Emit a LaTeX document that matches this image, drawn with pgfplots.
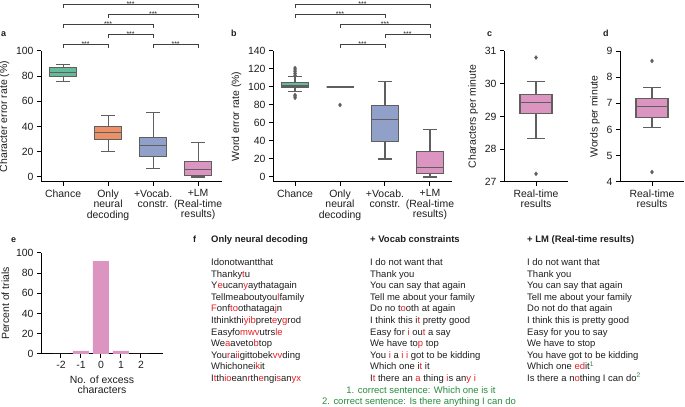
\documentclass[border=0pt]{standalone}
\usepackage{pgfplots}
\pgfplotsset{compat=1.18}
\usepgfplotslibrary{statistics}
\usepackage{fontspec}
\setmainfont{Liberation Sans}
\setsansfont{Liberation Sans}

\definecolor{cA}{RGB}{102,186,156}
\definecolor{cB}{RGB}{235,145,105}
\definecolor{cC}{RGB}{145,160,200}
\definecolor{cD}{RGB}{220,148,192}
\definecolor{edge}{RGB}{95,95,95}
\definecolor{txt}{RGB}{30,30,30}
\definecolor{redc}{RGB}{235,30,35}
\definecolor{grnc}{RGB}{40,140,60}

\newcommand\R[1]{\textcolor{redc}{#1}}
\newcommand\G[1]{\textcolor{grnc}{#1}}

\pgfplotsset{
  sb/.style={scale only axis, anchor=south west, clip=false,
    axis x line*=bottom, axis y line*=left,
    axis line style={line width=1bp, black},
    tick align=outside, major tick length=4bp,
    tick style={line width=1bp, black},
    ticklabel style={font=\fontsize{10.5}{10.5}\selectfont, text=txt},
    xticklabel style={align=center},
    label style={font=\fontsize{10.5}{10.5}\selectfont, text=txt},
    /pgf/number format/assume math mode=true},
  bx/.style={draw=edge, line width=1.1pt, mark=diamond*, mark size=2bp,
    boxplot/draw direction=y,
    mark options={fill=edge, draw=edge, solid, line width=0.4pt}},
}
\tikzset{
  brk/.style={draw=black!75, line width=0.8pt},
  stars/.style={font=\fontsize{7}{7}\selectfont, anchor=base, inner sep=0pt, yshift=-1.5bp, text=txt}
}

\begin{document}
\begin{tikzpicture}
\useasboundingbox (0,0) rectangle (685bp,407bp);

% ---- a
\begin{axis}[sb, at={(41bp,225bp)}, width=181bp, height=131bp,
  xmin=-0.49, xmax=3.53, ymin=-4, ymax=100,
  xtick={0,1,2,3},
  xticklabels={Chance, Only\\neural\\decoding, +Vocab.\\constr., +LM\\(Real-time\\results)},
  ytick={0,20,...,100}, ylabel={Character error rate (\%)}]
\addplot[bx, fill=cA, boxplot prepared={lower whisker=76, lower quartile=80, median=83, upper quartile=87, upper whisker=89, draw position=0, box extend=0.6, whisker extend=0.3}] coordinates {};
\addplot[bx, fill=cB, boxplot prepared={lower whisker=20, lower quartile=30, median=35, upper quartile=40, upper whisker=49, draw position=1, box extend=0.6, whisker extend=0.3}] coordinates {};
\addplot[bx, fill=cC, boxplot prepared={lower whisker=7, lower quartile=16, median=25, upper quartile=31, upper whisker=51, draw position=2, box extend=0.6, whisker extend=0.3}] coordinates {};
\addplot[bx, fill=cD, boxplot prepared={lower whisker=0, lower quartile=1, median=6, upper quartile=12, upper whisker=27, draw position=3, box extend=0.6, whisker extend=0.3}] coordinates {};
% significance brackets
\draw[brk] (axis cs:0,102.2) -- (axis cs:0,105) -- (axis cs:1,105) -- (axis cs:1,102.2);
\node[stars] at (axis cs:0.5,105) {***};
\draw[brk] (axis cs:2,102.2) -- (axis cs:2,105) -- (axis cs:3,105) -- (axis cs:3,102.2);
\node[stars] at (axis cs:2.5,105) {***};
\draw[brk] (axis cs:1,110.1) -- (axis cs:1,112.9) -- (axis cs:2,112.9) -- (axis cs:2,110.1);
\node[stars] at (axis cs:1.5,112.9) {***};
\draw[brk] (axis cs:0,118.1) -- (axis cs:0,120.9) -- (axis cs:2,120.9) -- (axis cs:2,118.1);
\node[stars] at (axis cs:1,120.9) {***};
\draw[brk] (axis cs:1,126) -- (axis cs:1,128.8) -- (axis cs:3,128.8) -- (axis cs:3,126);
\node[stars] at (axis cs:2,128.8) {***};
\draw[brk] (axis cs:0,133.9) -- (axis cs:0,136.7) -- (axis cs:3,136.7) -- (axis cs:3,133.9);
\node[stars] at (axis cs:1.5,136.7) {***};
\end{axis}

% ---- b
\begin{axis}[sb, at={(273bp,225bp)}, width=179bp, height=131bp,
  xmin=-0.49, xmax=3.49, ymin=-5.6, ymax=140,
  xtick={0,1,2,3},
  xticklabels={Chance, Only\\neural\\decoding, +Vocab.\\constr., +LM\\(Real-time\\results)},
  ytick={0,20,...,140}, ylabel={Word error rate (\%)}]
\addplot[bx, fill=cA, boxplot prepared={lower whisker=95, lower quartile=100, median=102, upper quartile=105, upper whisker=112, draw position=0, box extend=0.6, whisker extend=0.3}] coordinates {(0,113) (0,115) (0,117) (0,119) (0,121) (0,88) (0,90) (0,91)};
\addplot[bx, fill=cB, boxplot prepared={lower whisker=100, lower quartile=100, median=100, upper quartile=100, upper whisker=100, draw position=1, box extend=0.6, whisker extend=0.3}] coordinates {(1,80)};
\addplot[bx, fill=cC, boxplot prepared={lower whisker=20, lower quartile=39, median=64, upper quartile=79, upper whisker=106, draw position=2, box extend=0.6, whisker extend=0.3}] coordinates {};
\addplot[bx, fill=cD, boxplot prepared={lower whisker=0, lower quartile=4, median=11, upper quartile=28, upper whisker=53, draw position=3, box extend=0.6, whisker extend=0.3}] coordinates {};
\draw[brk] (axis cs:1,143.1) -- (axis cs:1,147) -- (axis cs:2,147) -- (axis cs:2,143.1);
\node[stars] at (axis cs:1.5,147) {***};
\draw[brk] (axis cs:2,154.2) -- (axis cs:2,158.1) -- (axis cs:3,158.1) -- (axis cs:3,154.2);
\node[stars] at (axis cs:2.5,158.1) {***};
\draw[brk] (axis cs:1,165.3) -- (axis cs:1,169.2) -- (axis cs:3,169.2) -- (axis cs:3,165.3);
\node[stars] at (axis cs:2,169.2) {***};
\draw[brk] (axis cs:0,176.4) -- (axis cs:0,180.3) -- (axis cs:2,180.3) -- (axis cs:2,176.4);
\node[stars] at (axis cs:1,180.3) {***};
\draw[brk] (axis cs:0,187.5) -- (axis cs:0,191.4) -- (axis cs:3,191.4) -- (axis cs:3,187.5);
\node[stars] at (axis cs:1.5,191.4) {***};
\end{axis}

% ---- c
\begin{axis}[sb, at={(504bp,225bp)}, width=64bp, height=131bp,
  xmin=-0.5, xmax=0.5, ymin=27, ymax=31,
  xtick={0}, xticklabels={Real-time\\results},
  ytick={27,28,...,31}, ylabel={Characters per minute}]
\addplot[bx, fill=cD, boxplot prepared={lower whisker=28.33, lower quartile=29.1, median=29.42, upper quartile=29.68, upper whisker=30.08, draw position=0, box extend=0.5, whisker extend=0.27}] coordinates {(0,30.8) (0,27.25)};
\end{axis}

% ---- d
\begin{axis}[sb, at={(620bp,225bp)}, width=64bp, height=131bp,
  xmin=-0.5, xmax=0.5, ymin=4, ymax=9,
  xtick={0}, xticklabels={Real-time\\results},
  ytick={4,5,...,9}, ylabel={Words per minute}]
\addplot[bx, fill=cD, boxplot prepared={lower whisker=6.08, lower quartile=6.45, median=6.87, upper quartile=7.19, upper whisker=7.61, draw position=0, box extend=0.5, whisker extend=0.28}] coordinates {(0,8.62) (0,4.38)};
\end{axis}

% ---- e
\begin{axis}[sb, at={(41bp,53bp)}, width=122bp, height=101bp,
  xmin=-3, xmax=3.1, ymin=0, ymax=100,
  xtick={-2,-1,0,1,2}, ytick={0,20,...,100},
  ylabel={Percent of trials},
  xlabel={No. of excess\\characters}, xlabel style={align=center}]
\addplot[ybar, bar width=0.8, fill=cD, draw=none] coordinates {(-2,0) (-1,3) (0,92) (1,3) (2,0)};
\end{axis}

% panel letters
\begin{scope}[every node/.style={anchor=base west, inner sep=0pt, font=\bfseries\fontsize{9}{9}\selectfont, text=txt}]
\node at (1bp,370bp) {a};
\node at (231bp,370bp) {b};
\node at (487bp,370bp) {c};
\node at (603bp,370bp) {d};
\node at (11bp,164bp) {e};
\node at (193bp,164bp) {f};
\end{scope}

% ---- f : decoded sentences
\begin{scope}[every node/.style={anchor=base west, inner sep=0pt, font=\fontsize{9.5}{11}\selectfont, text=txt}]
\node[font=\bfseries\fontsize{9.5}{11}\selectfont] at (211bp,164bp) {Only neural decoding};
\node[font=\bfseries\fontsize{9.5}{11}\selectfont] at (370bp,164bp) {+ Vocab constraints};
\node[font=\bfseries\fontsize{9.5}{11}\selectfont] at (527bp,164bp) {+ LM (Real-time results)};
\foreach \t [count=\i from 0] in {
  Idonotwantthat,
  Thanky\R{t}u,
  Y\R{e}ucan\R{y}aythatagain,
  Tellmeaboutyou\R{l}family,
  \R{F}onf\R{to}othataga\R{j}n,
  Ithinkthi\R{yib}pret\R{e}y\R{g}rod,
  Easyfo\R{mwv}utrs\R{le},
  We\R{a}aveto\R{b}top,
  You\R{r}a\R{ii}gittobek\R{vv}ding,
  Whichonei\R{k}it,
  I\R{t}th\R{io}ean\R{r}th\R{e}ngi\R{s}an\R{yx}}
  \node at (211bp,{141.5bp-\i*11.6bp}) {\t};
\foreach \t [count=\i from 0] in {
  I do not want that,
  Thank you,
  You can say that again,
  Tell me about your family,
  Do no t\R{o}oth at again,
  I think this i\R{t} pretty good,
  Easy for \R{i} ou\R{t} a say,
  We have to\R{p} top,
  You \R{i} a \R{i} \R{i} got to be kidding,
  Which one i\R{t} it,
  I\R{t} there an \R{a} thing \R{i}s an\R{y i}}
  \node at (370bp,{141.5bp-\i*11.6bp}) {\t};
\foreach \t [count=\i from 0] in {
  I do not want that,
  Thank you,
  You can say that again,
  Tell me about your family,
  Do not do that again,
  I think this is pretty good,
  Easy for you to say,
  We have to stop,
  You have got to be kidding,
  Which one \R{ed}it\textsuperscript{\G{1}},
  Is there a n\R{o}thing I can do\textsuperscript{\G{2}}}
  \node at (527bp,{141.5bp-\i*11.6bp}) {\t};
\node[anchor=base, text=grnc] at (421bp,13.9bp) {1. correct sentence: Which one is it};
\node[anchor=base, text=grnc] at (419bp,2.3bp) {2. correct sentence: Is there anything I can do};
\end{scope}
\end{tikzpicture}
\end{document}
